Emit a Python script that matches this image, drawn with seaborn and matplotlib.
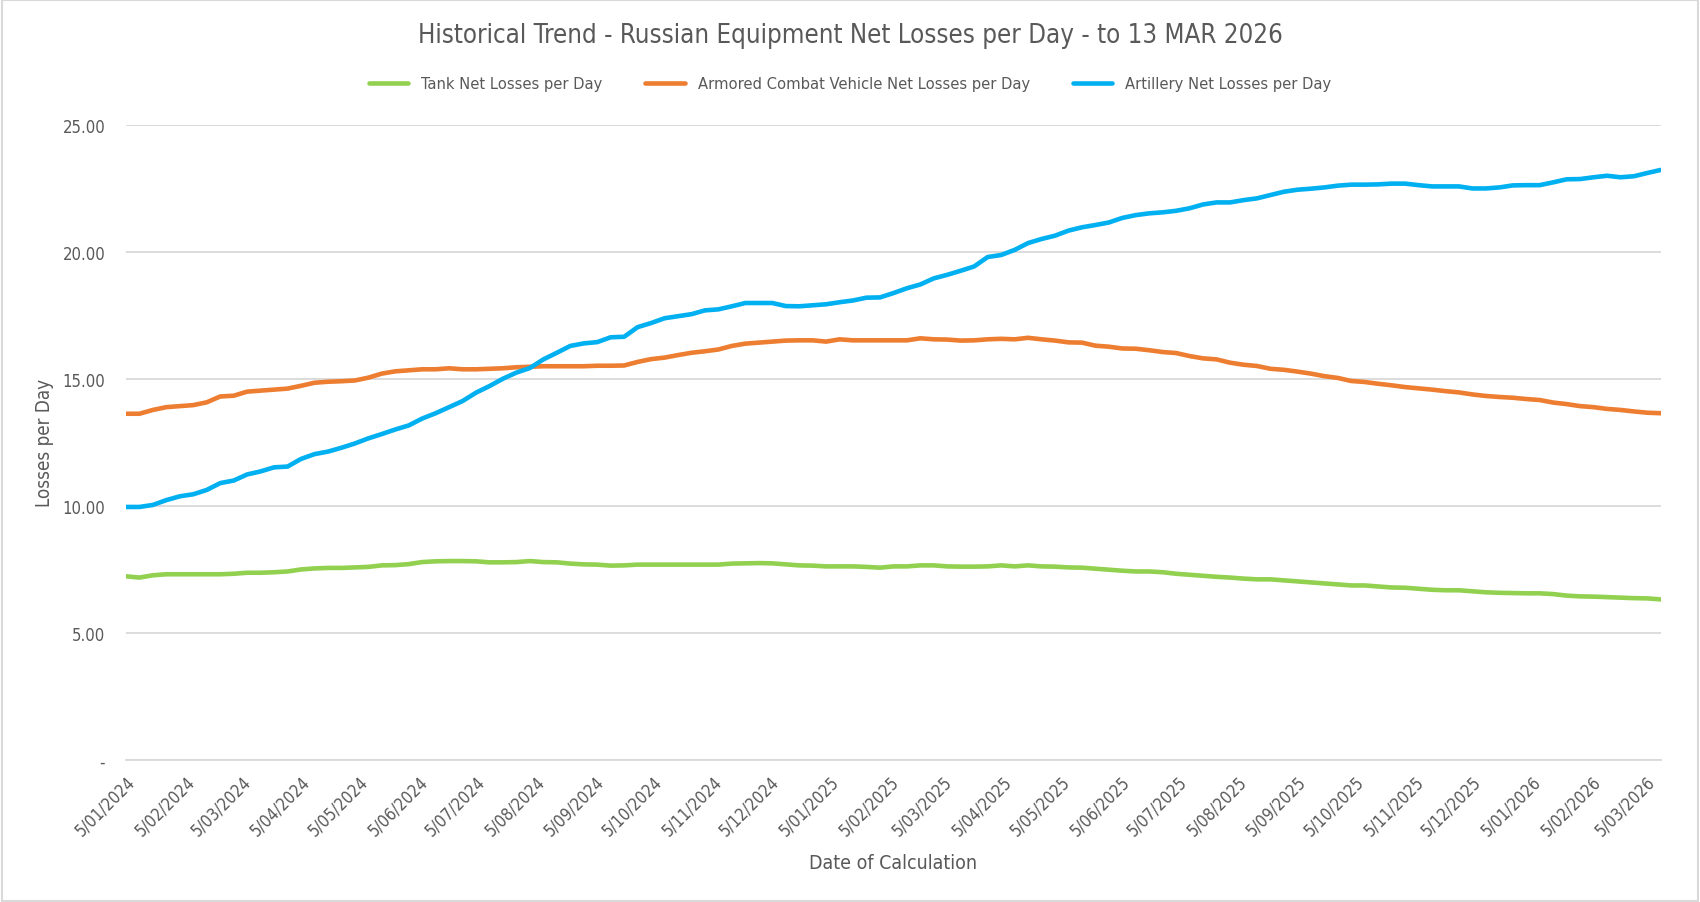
import numpy as np
import pandas as pd
import seaborn as sns
import matplotlib.pyplot as plt
from matplotlib.patches import Rectangle

# Weekly calculation dates (Fridays) from 5 Jan 2024 to 13 Mar 2026
first_date = '2024-01-05'
last_date = '2026-03-13'

tank = [7.22, 7.17, 7.26, 7.30, 7.30, 7.30, 7.30, 7.30, 7.32, 7.36,
        7.36, 7.38, 7.41, 7.49, 7.53, 7.55, 7.55, 7.57, 7.59, 7.65,
        7.66, 7.70, 7.78, 7.81, 7.82, 7.82, 7.81, 7.77, 7.77, 7.78,
        7.82, 7.78, 7.77, 7.72, 7.69, 7.68, 7.64, 7.65, 7.68, 7.68,
        7.68, 7.68, 7.68, 7.68, 7.68, 7.72, 7.73, 7.74, 7.73, 7.69,
        7.65, 7.64, 7.61, 7.61, 7.61, 7.59, 7.56, 7.61, 7.61, 7.65,
        7.65, 7.61, 7.60, 7.60, 7.61, 7.65, 7.61, 7.65, 7.61, 7.60,
        7.57, 7.56, 7.52, 7.48, 7.44, 7.41, 7.41, 7.38, 7.32, 7.28,
        7.24, 7.20, 7.17, 7.13, 7.10, 7.10, 7.06, 7.02, 6.98, 6.94,
        6.90, 6.86, 6.86, 6.82, 6.78, 6.77, 6.73, 6.69, 6.67, 6.67,
        6.63, 6.59, 6.57, 6.56, 6.55, 6.55, 6.52, 6.46, 6.43, 6.42,
        6.40, 6.38, 6.36, 6.35, 6.31]

acv = [13.62, 13.62, 13.77, 13.88, 13.92, 13.96, 14.07, 14.30, 14.33, 14.49,
       14.53, 14.57, 14.61, 14.72, 14.84, 14.88, 14.90, 14.93, 15.04, 15.20,
       15.29, 15.33, 15.37, 15.37, 15.41, 15.37, 15.37, 15.39, 15.41, 15.45,
       15.47, 15.49, 15.49, 15.49, 15.49, 15.51, 15.51, 15.52, 15.66, 15.77,
       15.83, 15.93, 16.02, 16.08, 16.15, 16.29, 16.38, 16.42, 16.46, 16.50,
       16.51, 16.51, 16.46, 16.55, 16.51, 16.51, 16.51, 16.51, 16.51, 16.59,
       16.55, 16.54, 16.50, 16.51, 16.55, 16.57, 16.55, 16.61, 16.55, 16.50,
       16.43, 16.42, 16.30, 16.26, 16.19, 16.18, 16.12, 16.05, 16.01, 15.89,
       15.80, 15.76, 15.63, 15.55, 15.50, 15.39, 15.35, 15.28, 15.20, 15.10,
       15.03, 14.91, 14.87, 14.80, 14.74, 14.67, 14.62, 14.57, 14.51, 14.46,
       14.38, 14.32, 14.28, 14.25, 14.20, 14.16, 14.06, 14.00, 13.92, 13.88,
       13.81, 13.77, 13.71, 13.66, 13.64]

artillery = [9.95, 9.95, 10.03, 10.22, 10.37, 10.45, 10.62, 10.89, 10.99, 11.23,
             11.35, 11.51, 11.54, 11.84, 12.03, 12.13, 12.28, 12.45, 12.65, 12.82,
             13.00, 13.16, 13.43, 13.64, 13.88, 14.12, 14.45, 14.71, 15.00, 15.24,
             15.42, 15.76, 16.02, 16.29, 16.39, 16.44, 16.63, 16.65, 17.03, 17.19,
             17.38, 17.46, 17.54, 17.69, 17.73, 17.85, 17.98, 17.98, 17.98, 17.86,
             17.85, 17.89, 17.93, 18.01, 18.08, 18.19, 18.20, 18.37, 18.56, 18.71,
             18.95, 19.09, 19.25, 19.42, 19.79, 19.87, 20.07, 20.34, 20.50, 20.63,
             20.83, 20.96, 21.05, 21.15, 21.33, 21.44, 21.51, 21.55, 21.61, 21.71,
             21.86, 21.94, 21.94, 22.03, 22.10, 22.23, 22.36, 22.44, 22.48, 22.53,
             22.60, 22.64, 22.64, 22.65, 22.68, 22.68, 22.62, 22.57, 22.57, 22.57,
             22.49, 22.49, 22.53, 22.61, 22.62, 22.62, 22.73, 22.85, 22.86, 22.93,
             22.99, 22.93, 22.97, 23.10, 23.22]

series_names = ['Tank Net Losses per Day',
                'Armored Combat Vehicle Net Losses per Day',
                'Artillery Net Losses per Day']
colors = ['#92D050', '#ED7D31', '#00B0F0']

dates = pd.date_range(first_date, last_date, freq='7D')
df = pd.DataFrame({'date': dates, series_names[0]: tank,
                   series_names[1]: acv, series_names[2]: artillery})
long_df = df.melt(id_vars='date', var_name='series', value_name='value')

# Monthly ticks on the 5th, like the Excel date axis
tick_dates = pd.date_range('2024-01-01', '2026-03-01', freq='MS') + pd.Timedelta(days=4)
tick_labels = [f'{d.day}/{d.month:02d}/{d.year}' for d in tick_dates]

sns.set_theme(style='white')
plt.rcParams['font.family'] = ['DejaVu Sans']
plt.rcParams['font.stretch'] = 'condensed'
text_color = '#595959'
grid_color = '#D9D9D9'

fig = plt.figure(figsize=(17, 9.03), dpi=100)
ax = fig.add_axes([0.0741, 0.1576, 0.9029, 0.7032])

sns.lineplot(data=long_df, x='date', y='value', hue='series',
             hue_order=series_names, palette=colors, linewidth=3.3,
             ax=ax, legend=False)

ax.set_xlim(dates[0], dates[-1])
ax.set_ylim(0, 25)
ax.set_yticks([0, 5, 10, 15, 20, 25])
ax.set_yticklabels(['-', '5.00', '10.00', '15.00', '20.00', '25.00'])
ax.set_xticks(tick_dates)
ax.set_xticklabels(tick_labels, rotation=45, ha='right', rotation_mode='anchor')
ax.tick_params(axis='both', length=0, colors=text_color, labelsize=12)
ax.tick_params(axis='y', pad=15)
ax.tick_params(axis='x', pad=9)
ax.grid(axis='y', color=grid_color, linewidth=1.3)
ax.set_axisbelow(True)
for side in ['top', 'right', 'left']:
    ax.spines[side].set_visible(False)
ax.spines['bottom'].set_color(grid_color)
ax.spines['bottom'].set_linewidth(1.3)

ax.set_xlabel('Date of Calculation', color=text_color, fontsize=14, labelpad=10)
ax.set_ylabel('Losses per Day', color=text_color, fontsize=13.5, labelpad=6)

fig.suptitle('Historical Trend - Russian Equipment Net Losses per Day - to 13 MAR 2026',
             y=0.96, va='center', color=text_color, fontsize=18.5)

handles = [plt.Line2D([], [], color=c, linewidth=3.3) for c in colors]
fig.legend(handles, series_names, loc='center', bbox_to_anchor=(0.5, 0.906),
           ncol=3, frameon=False, fontsize=11.8, labelcolor=text_color,
           handlelength=2.4, columnspacing=2.6)

fig.patches.append(Rectangle((0.001, 0.001), 0.998, 0.998, transform=fig.transFigure,
                             fill=False, edgecolor=grid_color, linewidth=1.5))

fig.savefig('out.png', dpi=100, facecolor='white')
